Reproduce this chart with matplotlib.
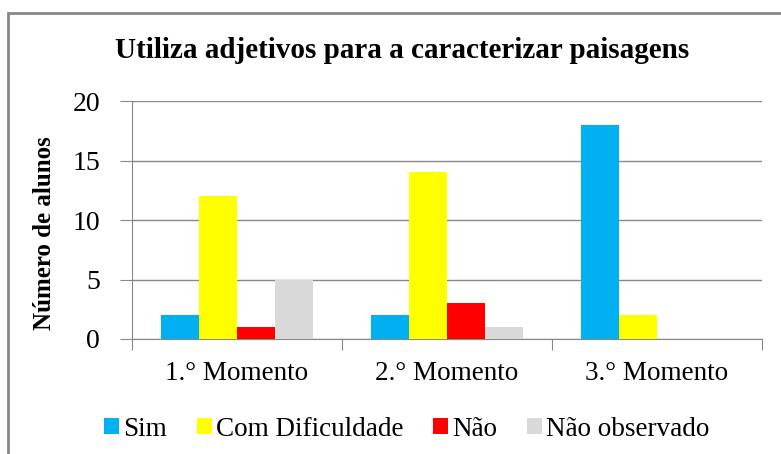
import numpy as np
import matplotlib.pyplot as plt
from matplotlib.patches import Rectangle

categories = ['1.° Momento', '2.° Momento', '3.° Momento']
series = ['Sim', 'Com Dificuldade', 'Não', 'Não observado']
sim = [2, 2, 18]
com_dificuldade = [12, 14, 2]
nao = [1, 3, 0]
nao_observado = [5, 1, 0]
colors = ['#00B0F0', '#FFFF00', '#FF0000', '#D9D9D9']

plt.rcParams['font.family'] = ['Liberation Serif', 'DejaVu Serif']

fig = plt.figure(figsize=(7.81, 4.54), dpi=100)
ax = fig.add_axes([132 / 781, 1 - 339 / 454, (762 - 132) / 781, (339 - 101) / 454])

x = np.arange(len(categories))
width = 0.181
values = [sim, com_dificuldade, nao, nao_observado]
for i, (name, vals) in enumerate(zip(series, values)):
    ax.bar(x + (i - 1.5) * width, vals, width, color=colors[i], label=name, zorder=3)

ax.set_xlim(-0.5, 2.5)
ax.set_ylim(0, 20)
ax.set_yticks([0, 5, 10, 15, 20])
ax.set_xticks([-0.5, 0.5, 1.5, 2.5], minor=False)
ax.set_xticklabels([])
ax.set_xticks(x, minor=True)
ax.set_xticklabels(categories, minor=True)
ax.tick_params(axis='x', which='minor', length=0, pad=16, labelsize=19.5)
ax.tick_params(axis='x', which='major', length=8, color='#888888', direction='out')
ax.tick_params(axis='y', length=9, color='#888888', pad=14, labelsize=20)
ax.grid(axis='y', color='#888888', linewidth=1, zorder=0)
for s in ['top', 'right']:
    ax.spines[s].set_visible(False)
for s in ['left', 'bottom']:
    ax.spines[s].set_color('#888888')

fig.text(45 / 781, 1 - 233 / 454, 'Número de alunos', rotation=90,
         ha='center', va='center', fontsize=18, fontweight='bold')
fig.text(0.515, 1 - 50 / 454, 'Utiliza adjetivos para a caracterizar paisagens',
         ha='center', va='center', fontsize=21, fontweight='bold')

fig.legend(loc='center', bbox_to_anchor=(0.521, 1 - 429 / 454), ncol=4, frameon=False,
           fontsize=19.5, handlelength=0.55, handleheight=0.55, handletextpad=0.15,
           columnspacing=1.1)

fig.patches.append(Rectangle((8 / 781, -0.1), 1.2, 1 - 13 / 454 + 0.1,
                             transform=fig.transFigure, fill=False,
                             edgecolor='#888888', linewidth=2))

fig.savefig('out.png', dpi=100)
